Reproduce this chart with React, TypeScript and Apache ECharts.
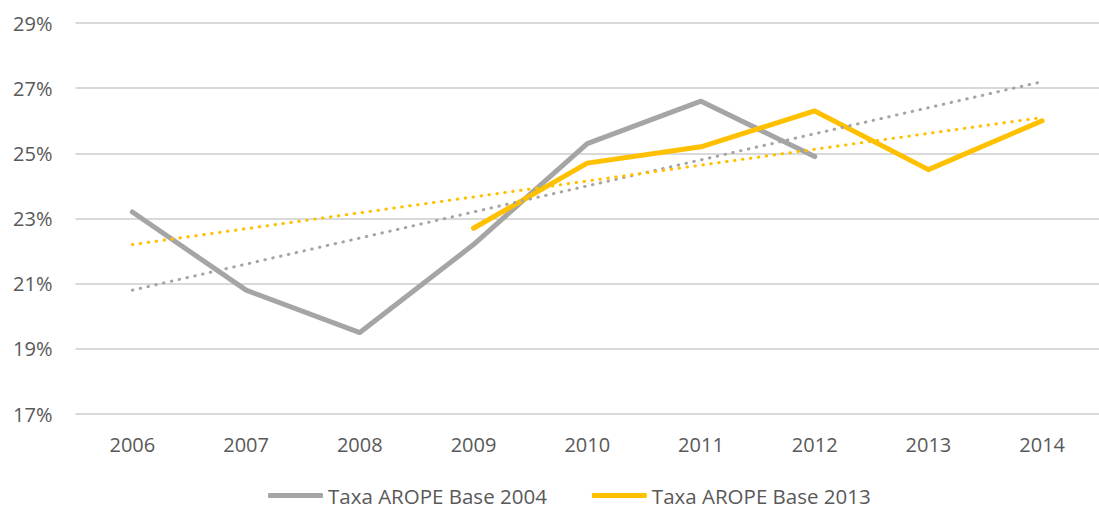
import React, { useEffect, useRef } from "react";
import * as echarts from "echarts";

const years = ["2006", "2007", "2008", "2009", "2010", "2011", "2012", "2013", "2014"];
const base2004 = [23.2, 20.8, 19.5, 22.2, 25.3, 26.6, 24.9, null, null];
const base2013 = [null, null, null, 22.7, 24.7, 25.2, 26.3, 24.5, 26.0];
// linear trend lines (only endpoints)
const trend2004 = [20.8, null, null, null, null, null, null, null, 27.2];
const trend2013 = [22.2, null, null, null, null, null, null, null, 26.1];
const seriesNames = ["Taxa AROPE Base 2004", "Taxa AROPE Base 2013"];

const GREY = "#A5A5A5";
const GOLD = "#FFC000";
const TEXT = "#595959";
const FONT = "Open Sans";

export default function App() {
  const ref = useRef<HTMLDivElement>(null);
  useEffect(() => {
    if (!ref.current) return;
    const chart = echarts.init(ref.current, null, { renderer: "svg" });
    chart.setOption({
      animation: false,
      textStyle: { fontFamily: FONT },
      grid: { left: 75.5, width: 1030, top: 23, height: 391 },
      xAxis: {
        type: "category",
        data: years,
        boundaryGap: true,
        axisLine: { show: false },
        axisTick: { show: false },
        axisLabel: { color: TEXT, fontSize: 20, fontFamily: FONT, margin: 20 },
      },
      yAxis: {
        type: "value",
        min: 17,
        max: 29,
        interval: 2,
        axisLine: { show: false },
        axisTick: { show: false },
        axisLabel: { color: TEXT, fontSize: 20, fontFamily: FONT, margin: 23, formatter: "{value}%" },
        splitLine: { lineStyle: { color: "#D9D9D9", width: 2 } },
      },
      legend: {
        data: seriesNames,
        left: 263,
        top: 480,
        itemWidth: 55,
        itemHeight: 5,
        itemGap: 45,
        icon: "roundRect",
        textStyle: { color: TEXT, fontSize: 20.5, fontFamily: FONT },
      },
      series: [
        {
          name: seriesNames[0],
          type: "line",
          data: base2004,
          symbol: "none",
          lineStyle: { color: GREY, width: 5, cap: "round", join: "round" },
          itemStyle: { color: GREY },
        },
        {
          name: seriesNames[1],
          type: "line",
          data: base2013,
          symbol: "none",
          lineStyle: { color: GOLD, width: 5, cap: "round", join: "round" },
          itemStyle: { color: GOLD },
        },
        {
          name: "trend2004",
          type: "line",
          data: trend2004,
          connectNulls: true,
          symbol: "none",
          lineStyle: { color: GREY, width: 3, type: [0.5, 7.5], cap: "round" },
        },
        {
          name: "trend2013",
          type: "line",
          data: trend2013,
          connectNulls: true,
          symbol: "none",
          lineStyle: { color: GOLD, width: 3, type: [0.5, 7.5], cap: "round" },
        },
      ],
    });
    return () => chart.dispose();
  }, []);
  return (
    <div
      ref={ref}
      style={{ position: "fixed", left: 0, top: 0, width: 1099, height: 508, background: "#fff" }}
    />
  );
}
